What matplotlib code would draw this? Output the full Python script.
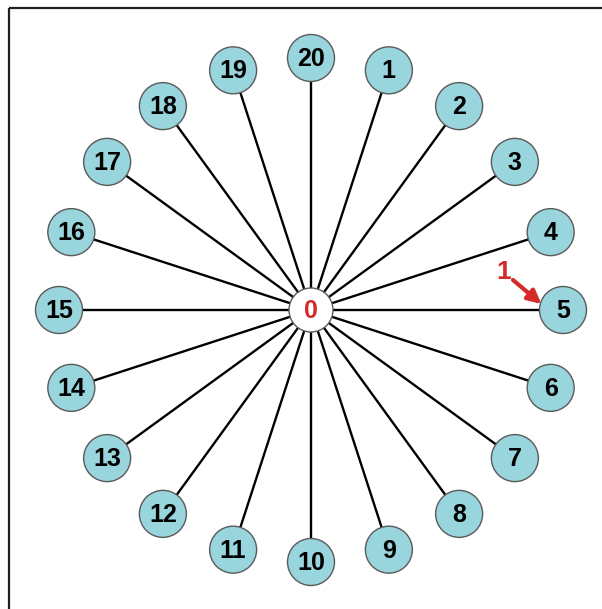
import numpy as np
import matplotlib
matplotlib.use("Agg")
import matplotlib.pyplot as plt
from matplotlib.patches import Circle, FancyArrowPatch

# Data
node_labels = [str(i) for i in range(1, 21)]
center_label = "0"
arrow_label = "1"
arrow_target = "5"

W, H = 602, 609
fig = plt.figure(figsize=(W / 100, H / 100), dpi=100)
ax = fig.add_axes([0, 0, 1, 1])
ax.set_xlim(0, W)
ax.set_ylim(H, 0)
ax.set_aspect("equal")
ax.axis("off")

cx, cy = 311, 310
R = 252
r_node = 23.5
r_center = 22
node_color = "#98D5DD"
edge_grey = "#5a5a5a"
red = "#D42A2A"
font = "Liberation Sans"

# border (top and left only)
ax.plot([9, W], [8, 8], color="#231f20", lw=1.6, solid_capstyle="butt", zorder=1)
ax.plot([9, 9], [8, H], color="#231f20", lw=1.6, solid_capstyle="butt", zorder=1)

pos = {}
for i, lab in enumerate(node_labels):
    ang = np.deg2rad(72 - 18 * i)
    x = cx + R * np.cos(ang)
    y = cy - R * np.sin(ang)
    pos[lab] = (x, y)
    ax.plot([cx, x], [cy, y], color="black", lw=1.7, zorder=2)
    ax.add_patch(Circle((x, y), r_node, facecolor=node_color, edgecolor=edge_grey, lw=1.0, zorder=3))
    ax.text(x, y + 1, lab, ha="center", va="center", fontsize=18, fontweight="bold",
            family=font, color="black", zorder=4)

ax.add_patch(Circle((cx, cy), r_center, facecolor="white", edgecolor=edge_grey, lw=1.0, zorder=3))
ax.text(cx, cy + 1, center_label, ha="center", va="center", fontsize=18, fontweight="bold",
        family=font, color=red, zorder=4)

# red arrow toward target node
tx, ty = pos[arrow_target]
arr = FancyArrowPatch((513, 280), (tx - r_node + 2, ty - 6), arrowstyle="-|>", mutation_scale=20,
                      color=red, lw=3.0, shrinkA=0, shrinkB=0, zorder=5)
ax.add_patch(arr)
ax.text(504, 272, arrow_label, ha="center", va="center", fontsize=19, fontweight="bold",
        family=font, color=red, zorder=5)

fig.savefig("out.png", dpi=100)
